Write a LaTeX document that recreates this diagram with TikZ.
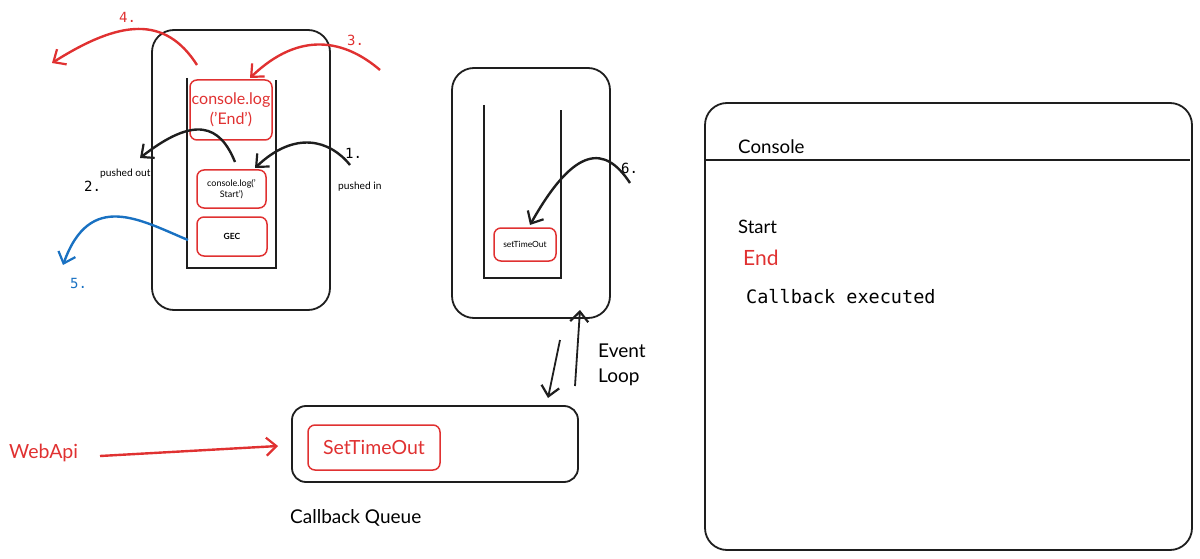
\documentclass[tikz,border=0pt]{standalone}
\usepackage{fontspec}
\setmainfont{Lato}
\newfontfamily\monof{DejaVu Sans Mono}
\usetikzlibrary{arrows.meta}
\definecolor{xred}{HTML}{E03131}
\definecolor{xblue}{HTML}{1971C2}
\definecolor{xblack}{HTML}{1E1E1E}
\tikzset{
  frame/.style={draw=xblack,line width=1.8pt,rounded corners=22pt},
  redbox/.style={draw=xred,line width=1.5pt,rounded corners=7pt,inner sep=0pt,align=center},
  wall/.style={draw=xblack,line width=2pt},
  flow/.style={line width=2.4pt,-{Straight Barb[length=10pt,width=18pt,line width=2.2pt]}},
  lbl/.style={inner sep=0pt,anchor=west},
}
\begin{document}
\begin{tikzpicture}[x=1pt,y=-1pt]
\useasboundingbox (0,0) rectangle (1200,559);
% ---- call stack ----
\draw[frame] (152,30) rectangle (330,310);
\draw[wall] (187,78) -- (187,268) -- (276,268) -- (276,80);
\node[redbox,minimum width=82pt,minimum height=60pt,text=xred,font={\fontsize{16}{20}\selectfont}] (endbox) at (231,110) {console.log\\('End')};
\node[redbox,minimum width=69pt,minimum height=38pt,font={\fontsize{9}{11.5}\selectfont}] (startbox) at (231.5,189) {console.log('\\Start')};
\node[redbox,minimum width=70pt,minimum height=39pt,font={\fontsize{8.5}{10}\selectfont\bfseries}] (gec) at (232,236.5) {GEC};
% arrow 1
\coordinate (a1s) at (350,165);
\coordinate (a1e) at (255,168);
\draw[flow,xblack] (a1s) .. controls (330,140) and (295,130) .. (a1e);
\node[lbl,font={\fontsize{14}{16}\monof}] (n1) at (345,153) {1.};
\node[lbl,font={\fontsize{10.2}{12}\selectfont}] (pin) at (338,187) {pushed in};
% arrow 2
\coordinate (a2s) at (235,162);
\coordinate (a2e) at (140,158);
\draw[flow,xblack] (a2s) .. controls (220,125) and (195,115) .. (a2e);
\node[lbl,font={\fontsize{10.2}{12}\selectfont}] (pout) at (100,174) {pushed out};
\node[lbl,font={\fontsize{14}{16}\monof}] (n2) at (84,186) {2.};
% arrow 3
\coordinate (a3s) at (380,70);
\coordinate (a3e) at (250,78);
\draw[flow,xred] (a3s) .. controls (345,40) and (300,30) .. (a3e);
\node[lbl,font={\fontsize{14}{16}\monof},text=xred] (n3) at (347,40) {3.};
% arrow 4
\coordinate (a4s) at (197,65);
\coordinate (a4e) at (52,63);
\draw[flow,xred] (a4s) .. controls (165,15) and (120,20) .. (a4e);
\node[lbl,font={\fontsize{14}{16}\monof},text=xred] (n4) at (119,17) {4.};
% arrow 5
\coordinate (a5s) at (188,240);
\coordinate (a5e) at (63,265);
\draw[flow,xblue] (a5s) .. controls (140,220) and (90,190) .. (a5e);
\node[lbl,font={\fontsize{14}{16}\monof},text=xblue] (n5) at (70,283) {5.};
% ---- second stack ----
\draw[frame] (452,68) rectangle (610,318);
\draw[wall] (484,105) -- (484,278) -- (561,278) -- (561,110);
\node[redbox,minimum width=62pt,minimum height=33pt,font={\fontsize{8.5}{10}\selectfont}] (sto) at (525,244.5) {setTimeOut};
\coordinate (a6s) at (630,183);
\coordinate (a6e) at (530,225);
\draw[flow,xblack] (a6s) .. controls (605,145) and (575,145) .. (a6e);
\node[lbl,font={\fontsize{14}{16}\monof}] (n6) at (621,168) {6.};
% ---- event loop ----
\coordinate (elA) at (560,340);
\coordinate (elB) at (548,398);
\coordinate (elC) at (575,386);
\coordinate (elD) at (580,310);
\draw[flow,xblack,line width=1.8pt] (elA) -- (elB);
\draw[flow,xblack,line width=1.8pt] (elC) -- (elD);
\node[lbl,anchor=north west,align=left,font={\fontsize{19}{25}\selectfont}] (evl) at (598,344) {Event\\Loop};
% ---- callback queue ----
\draw[frame,rounded corners=14pt] (292,406) rectangle (578,482);
\node[redbox,minimum width=132pt,minimum height=45pt,text=xred,font={\fontsize{19.5}{22}\selectfont}] (qsto) at (374,447.5) {SetTimeOut};
\node[lbl,font={\fontsize{19}{22}\selectfont}] (cbq) at (290,518) {Callback Queue};
\node[lbl,text=xred,font={\fontsize{19.5}{22}\selectfont}] (webapi) at (9,453) {WebApi};
\coordinate (waE) at (278,446);
\draw[flow,xred] (100,456) -- (waE);
% ---- console ----
\draw[frame] (705,103) rectangle (1192,550);
\draw[wall] (705,160) -- (1190,160);
\node[lbl,font={\fontsize{18.7}{22}\selectfont}] (con) at (738,147) {Console};
\node[lbl,font={\fontsize{18.5}{22}\selectfont}] (st) at (738,227) {Start};
\node[lbl,text=xred,font={\fontsize{21}{25}\selectfont}] (en) at (743,258) {End};
\node[lbl,font={\fontsize{18.5}{22}\monof}] (cbe) at (746,297) {Callback executed};
\end{tikzpicture}
\end{document}
